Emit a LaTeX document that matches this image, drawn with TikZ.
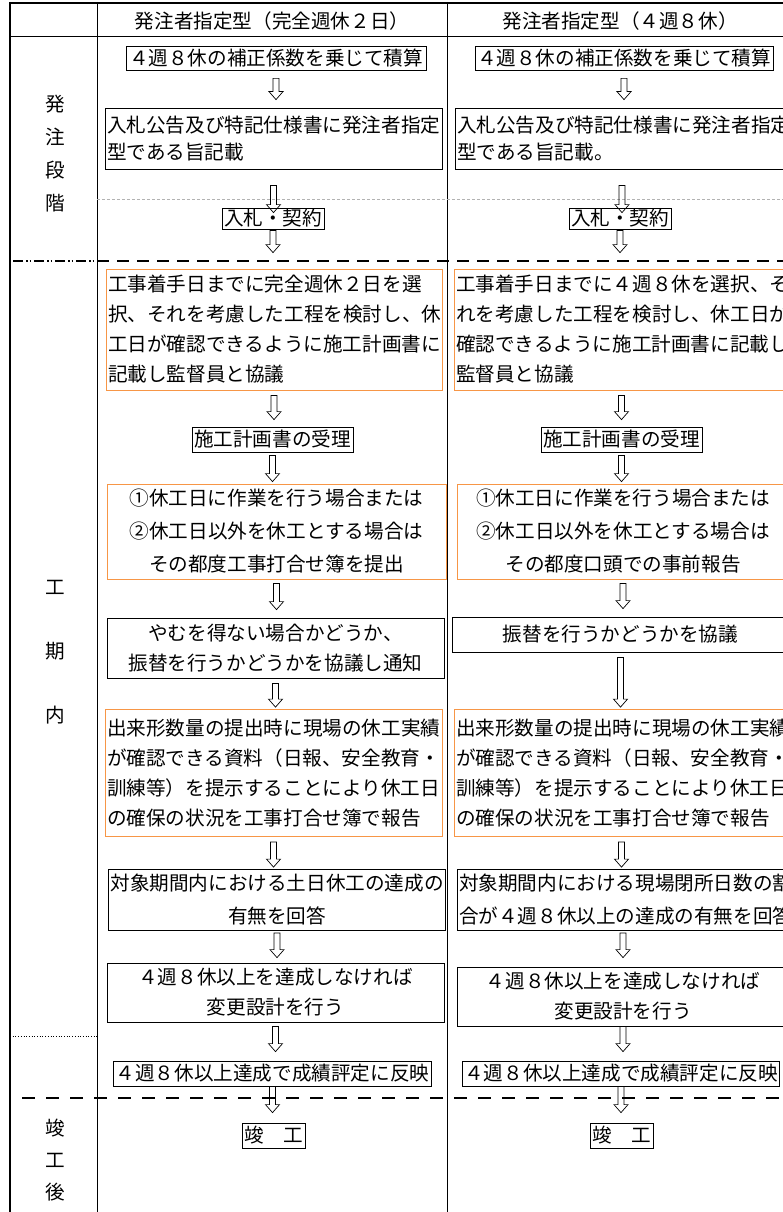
\documentclass[tikz,border=0pt]{standalone}
\usepackage{fontspec}
\setmainfont{Noto Sans CJK JP}
\usepackage{tikz}
\usetikzlibrary{calc}
\definecolor{boxorange}{RGB}{247,150,70}
\newcommand{\boxfont}{\fontsize{19.6}{30}\selectfont}
\newcommand{\gapA}{4pt}
\newcommand{\gapB}{4pt}
\tikzset{box/.style = {draw,line width=0.8pt,inner xsep=2pt,inner ysep=0pt,font=\boxfont}}
\tikzset{obox/.style = {box,draw=boxorange}}
\tikzset{stage/.style = {align=center,inner sep=0pt,font=\fontsize{19.6}{33}\selectfont}}
\tikzset{from gap/.code = {\def\gapA{#1}}, to gap/.code = {\def\gapB{#1}}}
\tikzset{flowarrow/.style = {draw,line width=0.7pt,to path={
    let \p1=(\tikztostart.south), \p2=(\tikztotarget.north) in
    ({\x1-3pt},{\y1-\gapA}) -- ({\x1-3pt},{\y2+(\gapB)+8pt}) -- ({\x1-7pt},{\y2+(\gapB)+8pt})
    -- ({\x1},{\y2+(\gapB)}) -- ({\x1+7pt},{\y2+(\gapB)+8pt}) -- ({\x1+3pt},{\y2+(\gapB)+8pt})
    -- ({\x1+3pt},{\y1-\gapA}) -- cycle}}}

\begin{document}
\begin{tikzpicture}[x=1pt,y=-1pt]
                \useasboundingbox (0,0) rectangle (783,1212);
                \clip (0,0) rectangle (783,1212);
                % table frame
                \draw[line width=2pt] (10,3) -- (783,3);
                \draw[line width=1pt] (10,37) -- (783,37);
                \draw[line width=1.3pt] (10,2) -- (10,1212);
                \draw[line width=1pt] (97,2) -- (97,1212);
                \draw[line width=1pt] (447,2) -- (447,1212);
                \draw[gray!60,line width=0.8pt,dash pattern=on 3pt off 2pt] (97,199) -- (783,199);
                \draw[line width=2.2pt,dash pattern=on 10pt off 3pt on 1.5pt off 2pt on 1.5pt off 3pt] (13,261) -- (97,261);
                \draw[line width=2.2pt,dash pattern=on 12pt off 8pt] (97,261) -- (783,261);
                \draw[line width=0.7pt,dotted] (10,1036) -- (97,1036);
                \draw[line width=2.8pt,dash pattern=on 13pt off 11pt] (22,1098) -- (783,1098);
                % headers and stages
                \node[inner sep=0pt,font=\boxfont] (h1) at (272,21) {発注者指定型（完全週休２日）};
                \node[inner sep=0pt,font=\boxfont] (h2) at (620,21) {発注者指定型（４週８休）};
                \node[stage] (s1) at (55,153.5) {発\\注\\段\\階};
                \node[stage,font=\fontsize{19.6}{64}\selectfont] (s2) at (55,652) {工\\期\\内};
                \node[stage,font=\fontsize{19.6}{32}\selectfont] (s3) at (55,1160) {竣\\工\\後};
                % left column
                \node[box,minimum width=300,minimum height=24] (b1) at (276,58) {４週８休の補正係数を乗じて積算};
                \node[box,text width=333,minimum height=61,align=left,font=\fontsize{19.6}{27}\selectfont] (b2) at (273.5,138.5) {入札公告及び特記仕様書に発注者指定\\型である旨記載};
                \draw[flowarrow,from gap=8pt,to gap=8pt] (b1) to (b2);
                \node[box,minimum width=98,minimum height=21] (b3) at (273,218.5) {入札・契約};
                \draw[flowarrow,from gap=16pt,to gap=-5pt] (b2) to (b3);
                \node[obox,text width=332,minimum height=121,align=left] (b4) at (274,329.5) {工事着手日までに完全週休２日を選\\択、それを考慮した工程を検討し、休\\工日が確認できるように施工計画書に\\記載し監督員と協議};
                \draw[flowarrow,from gap=1pt,to gap=16pt] (b3) to (b4);
                \node[box,minimum width=157,minimum height=25] (b5) at (272.5,439.5) {施工計画書の受理};
                \draw[flowarrow,from gap=5pt,to gap=7pt] (b4) to (b5);
                \node[obox,text width=335,minimum height=95,align=center,font=\fontsize{19.6}{33}\selectfont] (b6) at (276.5,531.5) {①休工日に作業を行う場合または\\②休工日以外を休工とする場合は\\その都度工事打合せ簿を提出};
                \draw[flowarrow,from gap=3pt,to gap=2pt] (b5) to (b6);
                \node[box,text width=333,minimum height=60,align=center] (b7) at (275.5,648) {やむを得ない場合かどうか、\\振替を行うかどうかを協議し通知};
                \draw[flowarrow,from gap=4pt,to gap=8pt] (b6) to (b7);
                \node[obox,text width=333,minimum height=127,align=left] (b8) at (273.5,773) {出来形数量の提出時に現場の休工実績\\が確認できる資料（日報、安全教育・\\訓練等）を提示することにより休工日\\の確保の状況を工事打合せ簿で報告};
                \draw[flowarrow,from gap=5pt,to gap=2pt] (b7) to (b8);
                \node[box,text width=333,minimum height=61,align=center,font=\fontsize{19.6}{33}\selectfont] (b9) at (277,900) {対象期間内における土日休工の達成の\\有無を回答};
                \draw[flowarrow,from gap=5pt,to gap=2pt] (b8) to (b9);
                \node[box,text width=333,minimum height=59,align=center] (b10) at (275.5,992.5) {４週８休以上を達成しなければ\\変更設計を行う};
                \draw[flowarrow,from gap=2pt,to gap=5pt] (b9) to (b10);
                \node[box,minimum width=311,minimum height=25] (b11) at (272.5,1073.5) {４週８休以上達成で成績評定に反映};
                \draw[flowarrow,from gap=4pt,to gap=9pt] (b10) to (b11);
                \node[box,minimum width=58,minimum height=25] (b12) at (273.5,1135.5) {竣　工};
                \draw[flowarrow,from gap=0pt,to gap=10pt] (b11) to (b12);
                % right column
                \node[box,minimum width=298,minimum height=24] (c1) at (624,58) {４週８休の補正係数を乗じて積算};
                \node[box,text width=330,minimum height=61,align=left,font=\fontsize{19.6}{27}\selectfont] (c2) at (622,138.5) {入札公告及び特記仕様書に発注者指定\\型である旨記載。};
                \draw[flowarrow,from gap=8pt,to gap=8pt] (c1) to (c2);
                \node[box,minimum width=98,minimum height=21] (c3) at (620,218.5) {入札・契約};
                \draw[flowarrow,from gap=16pt,to gap=-5pt] (c2) to (c3);
                \node[obox,text width=331,minimum height=121,align=left] (c4) at (621.5,329.5) {工事着手日までに４週８休を選択、そ\\れを考慮した工程を検討し、休工日が\\確認できるように施工計画書に記載し\\監督員と協議};
                \draw[flowarrow,from gap=1pt,to gap=16pt] (c3) to (c4);
                \node[box,minimum width=157,minimum height=25] (c5) at (621.5,439.5) {施工計画書の受理};
                \draw[flowarrow,from gap=5pt,to gap=7pt] (c4) to (c5);
                \node[obox,text width=328,minimum height=95,align=center,font=\fontsize{19.6}{33}\selectfont] (c6) at (623,531.5) {①休工日に作業を行う場合または\\②休工日以外を休工とする場合は\\その都度口頭での事前報告};
                \draw[flowarrow,from gap=3pt,to gap=2pt] (c5) to (c6);
                \node[box,text width=333,minimum height=35,align=center] (c7) at (620.5,634.5) {振替を行うかどうかを協議};
                \draw[flowarrow,from gap=4pt,to gap=8pt] (c6) to (c7);
                \node[obox,text width=331,minimum height=127,align=left] (c8) at (621.5,773) {出来形数量の提出時に現場の休工実績\\が確認できる資料（日報、安全教育・\\訓練等）を提示することにより休工日\\の確保の状況を工事打合せ簿で報告};
                \draw[flowarrow,from gap=5pt,to gap=2pt] (c7) to (c8);
                \node[box,text width=328,minimum height=61,align=left,font=\fontsize{19.6}{33}\selectfont] (c9) at (623,900) {対象期間内における現場閉所日数の割\\合が４週８休以上の達成の有無を回答};
                \draw[flowarrow,from gap=5pt,to gap=2pt] (c8) to (c9);
                \node[box,text width=328,minimum height=59,align=center] (c10) at (623,996.5) {４週８休以上を達成しなければ\\変更設計を行う};
                \draw[flowarrow,from gap=2pt,to gap=9pt] (c9) to (c10);
                \node[box,minimum width=311,minimum height=25] (c11) at (621,1073.5) {４週８休以上達成で成績評定に反映};
                \draw[flowarrow,from gap=0pt,to gap=9pt] (c10) to (c11);
                \node[box,minimum width=58,minimum height=25] (c12) at (622,1135.5) {竣　工};
                \draw[flowarrow,from gap=0pt,to gap=10pt] (c11) to (c12);
            \end{tikzpicture}
\end{document}
